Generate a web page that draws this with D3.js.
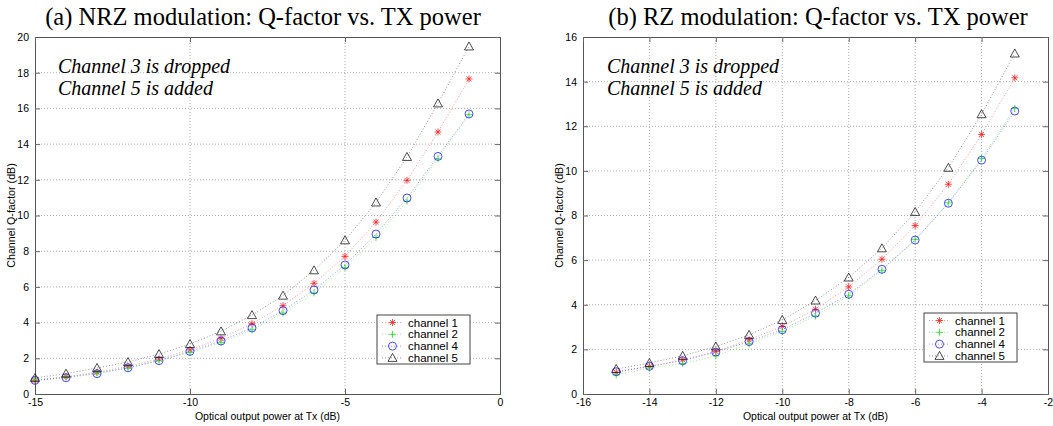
<!DOCTYPE html>
<html>
<head>
<meta charset="utf-8">
<script src="https://cdn.jsdelivr.net/npm/d3@7"></script>
<style>
  body { margin: 0; background: #fff; }
  svg { display: block; }
  .tick text { font-family: "Liberation Sans", Arial, sans-serif; font-size: 10.5px; fill: #000; }
</style>
</head>
<body>
<svg id="chart" width="1053" height="426"></svg>
<script>
/********** data **********/

var channelNames = ["channel 1", "channel 2", "channel 4", "channel 5"];

// (a) NRZ, x = -15 .. -1
var nrzPower = [-15, -14, -13, -12, -11, -10, -9, -8, -7, -6, -5, -4, -3, -2, -1];
var nrzCh1 = [0.76, 0.97, 1.21, 1.55, 1.96, 2.48, 3.12, 3.94, 4.95, 6.20, 7.71, 9.63, 11.97, 14.68, 17.65];
var nrzCh2 = [0.79, 0.95, 1.18, 1.45, 1.87, 2.33, 2.89, 3.60, 4.54, 5.66, 7.09, 8.77, 10.81, 13.18, 15.65];
var nrzCh4 = [0.76, 0.91, 1.14, 1.47, 1.87, 2.39, 2.97, 3.70, 4.67, 5.83, 7.23, 8.96, 10.98, 13.31, 15.69];
var nrzCh5 = [0.90, 1.14, 1.46, 1.79, 2.24, 2.80, 3.51, 4.42, 5.51, 6.93, 8.61, 10.73, 13.28, 16.28, 19.47];

// (b) RZ, x = -15 .. -3
var rzPower = [-15, -14, -13, -12, -11, -10, -9, -8, -7, -6, -5, -4, -3];
var rzCh1 = [0.97, 1.24, 1.53, 1.91, 2.43, 3.03, 3.80, 4.80, 6.04, 7.55, 9.40, 11.63, 14.17];
var rzCh2 = [0.86, 1.16, 1.36, 1.71, 2.25, 2.80, 3.50, 4.40, 5.53, 6.92, 8.57, 10.56, 12.80];
var rzCh4 = [1.00, 1.24, 1.49, 1.88, 2.35, 2.88, 3.62, 4.47, 5.59, 6.90, 8.55, 10.48, 12.68];
var rzCh5 = [1.12, 1.39, 1.71, 2.13, 2.65, 3.32, 4.19, 5.22, 6.53, 8.16, 10.14, 12.54, 15.26];

var nrzXTicks = [-15, -10, -5, 0];
var nrzYTicks = [0, 2, 4, 6, 8, 10, 12, 14, 16, 18, 20];
var rzXTicks = [-16, -14, -12, -10, -8, -6, -4, -2];
var rzYTicks = [0, 2, 4, 6, 8, 10, 12, 14, 16];

var noteLines = ["Channel 3 is dropped", "Channel 5 is added"];

/********** styles **********/

var seriesStyle = [
    { color: "#ff2020", marker: "star" },
    { color: "#20e020", marker: "plus" },
    { color: "#2020ff", marker: "circle" },
    { color: "#202020", marker: "triangle" }
];

function markerPath(type) {
    switch (type) {
        case "star":
            return "M-3.5,0H3.5M0,-3.5V3.5M-2.5,-2.5L2.5,2.5M-2.5,2.5L2.5,-2.5";
        case "plus":
            return "M-3.5,0H3.5M0,-3.5V3.5";
        case "circle":
            return "M4,0A4,4 0 1,1 -4,0A4,4 0 1,1 4,0Z";
        case "triangle":
            return "M0,-4.5L4.5,3.5H-4.5Z";
    }
}

// matlab style labels: plain hyphen, no unicode minus
var fmt = function (d) { return String(d); };

var svg = d3.select("#chart");

function drawPanel(p) {
    var x = d3.scaleLinear().domain(p.xDomain).range([p.left, p.right]);
    var y = d3.scaleLinear().domain(p.yDomain).range([p.bottom, p.top]);
    var g = svg.append("g");

    // grid
    g.append("g").selectAll("line").data(p.xTicks.slice(1, -1)).enter().append("line")
        .attr("x1", function (d) { return x(d); }).attr("x2", function (d) { return x(d); })
        .attr("y1", p.top).attr("y2", p.bottom)
        .attr("stroke", "#999").attr("stroke-width", 0.8).attr("stroke-dasharray", "1,2");
    g.append("g").selectAll("line").data(p.yTicks.slice(1, -1)).enter().append("line")
        .attr("y1", function (d) { return y(d); }).attr("y2", function (d) { return y(d); })
        .attr("x1", p.left).attr("x2", p.right)
        .attr("stroke", "#999").attr("stroke-width", 0.8).attr("stroke-dasharray", "1,2");

    // axes (ticks inside, matlab box)
    var axB = g.append("g").attr("transform", "translate(0," + p.bottom + ")")
        .call(d3.axisBottom(x).tickValues(p.xTicks).tickSize(-5).tickPadding(5).tickFormat(fmt));
    var axL = g.append("g").attr("transform", "translate(" + p.left + ",0)")
        .call(d3.axisLeft(y).tickValues(p.yTicks).tickSize(-5).tickPadding(6).tickFormat(fmt));
    var axT = g.append("g").attr("transform", "translate(0," + p.top + ")")
        .call(d3.axisTop(x).tickValues(p.xTicks).tickSize(-5).tickFormat(""));
    var axR = g.append("g").attr("transform", "translate(" + p.right + ",0)")
        .call(d3.axisRight(y).tickValues(p.yTicks).tickSize(-5).tickFormat(""));
    [axB, axL, axT, axR].forEach(function (a) {
        a.selectAll("path, line").attr("stroke", "#666").attr("stroke-width", 1);
        a.select(".domain").attr("stroke", "#555");
    });

    // series
    var line = d3.line().x(function (d) { return x(d[0]); }).y(function (d) { return y(d[1]); });
    p.series.forEach(function (vals, i) {
        var st = seriesStyle[i];
        var pts = p.xs.map(function (v, k) { return [v, vals[k]]; });
        g.append("path").datum(pts).attr("d", line)
            .attr("fill", "none").attr("stroke", st.color).attr("stroke-opacity", 0.6)
            .attr("stroke-width", 0.8).attr("stroke-dasharray", "1,2");
        g.append("g").selectAll("path").data(pts).enter().append("path")
            .attr("transform", function (d) { return "translate(" + x(d[0]) + "," + y(d[1]) + ")"; })
            .attr("d", markerPath(st.marker))
            .attr("fill", "none").attr("stroke", st.color).attr("stroke-width", 0.8);
    });

    // titles
    svg.append("text").attr("x", p.titleX).attr("y", 25).attr("text-anchor", "middle")
        .attr("font-family", "Liberation Serif, Times New Roman, serif").attr("font-size", 24.5)
        .text(p.title);
    svg.append("text").attr("x", (p.left + p.right) / 2).attr("y", 420).attr("text-anchor", "middle")
        .attr("font-family", "Liberation Sans, Arial, sans-serif").attr("font-size", 10.5)
        .text("Optical output power at Tx (dB)");
    svg.append("text").attr("transform", "translate(" + (p.left - 20) + "," + ((p.top + p.bottom) / 2) + ") rotate(-90)")
        .attr("text-anchor", "middle")
        .attr("font-family", "Liberation Sans, Arial, sans-serif").attr("font-size", 10.7)
        .text("Channel Q-factor (dB)");

    // annotation (one text block, two lines)
    var note = svg.append("text").attr("x", p.noteX).attr("y", 73)
        .attr("font-family", "Liberation Serif, Times New Roman, serif").attr("font-style", "italic")
        .attr("font-size", 20);
    noteLines.forEach(function (t, i) {
        note.append("tspan").attr("x", p.noteX).attr("dy", i === 0 ? 0 : 22.3).text(t);
    });

    // legend
    var lg = svg.append("g").attr("transform", "translate(" + p.legX + "," + p.legY + ")");
    lg.append("rect").attr("width", 93).attr("height", 49)
        .attr("fill", "#fff").attr("stroke", "#444").attr("stroke-width", 1);
    channelNames.forEach(function (name, i) {
        var st = seriesStyle[i];
        var yy = 7.5 + i * 11.8;
        lg.append("line").attr("x1", 5).attr("x2", 26).attr("y1", yy).attr("y2", yy)
            .attr("stroke", st.color).attr("stroke-opacity", 0.6).attr("stroke-width", 0.8).attr("stroke-dasharray", "1,2");
        lg.append("path").attr("transform", "translate(15.5," + yy + ")").attr("d", markerPath(st.marker))
            .attr("fill", "none").attr("stroke", st.color).attr("stroke-width", 0.8);
        lg.append("text").attr("x", 31).attr("y", yy + 4)
            .attr("font-family", "Liberation Sans, Arial, sans-serif").attr("font-size", 11.5)
            .text(name);
    });
}

drawPanel({
    title: "(a) NRZ modulation: Q-factor vs. TX power", titleX: 263,
    left: 35, right: 500, top: 37, bottom: 394,
    xDomain: [-15, 0], yDomain: [0, 20], xTicks: nrzXTicks, yTicks: nrzYTicks,
    xs: nrzPower, series: [nrzCh1, nrzCh2, nrzCh4, nrzCh5],
    noteX: 58, legX: 377, legY: 315
});

drawPanel({
    title: "(b) RZ modulation: Q-factor vs. TX power", titleX: 818,
    left: 583, right: 1048, top: 37, bottom: 394,
    xDomain: [-16, -2], yDomain: [0, 16], xTicks: rzXTicks, yTicks: rzYTicks,
    xs: rzPower, series: [rzCh1, rzCh2, rzCh4, rzCh5],
    noteX: 607, legX: 924, legY: 313
});
</script>
</body>
</html>
